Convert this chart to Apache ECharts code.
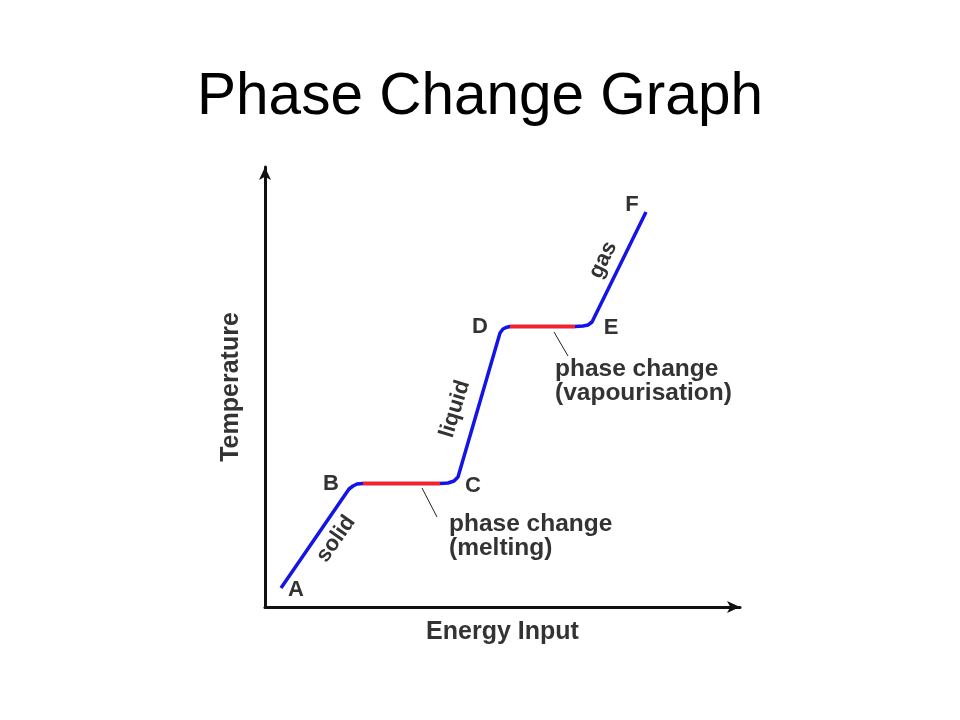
<!DOCTYPE html>
<html>
<head>
  <meta charset="utf-8" />
  <title>Phase Change Graph</title>
  <script src="https://cdn.jsdelivr.net/npm/echarts@6/dist/echarts.min.js"></script>
  <style>
    html, body { margin: 0; padding: 0; background: #fff; }
  </style>
</head>
<body>
<div id="main" style="width: 960px;height:720px;"></div>
<script type="text/javascript">
  // heating curve (energy, temperature), arbitrary units
  var curveEnergy = [16, 84, 88, 92, 98, 175, 183, 189, 193, 235, 238, 241, 245, 310, 318, 323, 327, 381];
  var curveTemp   = [19, 118, 121, 123, 123.5, 123.5, 124, 126, 130, 274, 278, 279.5, 280.5, 280.5, 281, 282, 285, 395];
  // plateaus (phase changes)
  var meltEnergy = [98, 175];
  var meltTemp   = [123.5, 123.5];
  var vapEnergy  = [245, 310];
  var vapTemp    = [280.5, 280.5];

  function pairs(xs, ys) {
    var out = [];
    for (var i = 0; i < xs.length; i++) out.push([xs[i], ys[i]]);
    return out;
  }

  var txt = '#333';
  var font = '"Liberation Sans", Arial, Helvetica, sans-serif';
  function deg(d) { return d * Math.PI / 180; }
  function label(text, x, y, rot, size) {
    return {
      type: 'text', x: x, y: y, rotation: rot ? deg(rot) : 0,
      style: { text: text, fill: txt, font: 'normal normal bold ' + (size || 22) + 'px ' + font,
               textAlign: 'center', textVerticalAlign: 'middle' }
    };
  }

  var chart = echarts.init(document.getElementById('main'));
  var option = {
    backgroundColor: '#fff',
    animation: false,
    title: {
      text: 'Phase Change Graph',
      left: 'center',
      top: 63,
      textStyle: { fontFamily: font, fontSize: 58.5, fontWeight: 'normal', color: '#000' }
    },
    grid: { left: 265, right: 220, top: 167, bottom: 113 },
    xAxis: {
      type: 'value', min: 0, max: 475,
      name: 'Energy Input', nameLocation: 'middle', nameGap: 13,
      nameTextStyle: { fontFamily: font, fontSize: 25, fontWeight: 'bold', color: txt },
      axisLine: { lineStyle: { color: '#111', width: 3 }, symbol: ['none', 'arrow'], symbolSize: [9, 13] },
      axisTick: { show: false }, axisLabel: { show: false }, splitLine: { show: false }
    },
    yAxis: {
      type: 'value', min: 0, max: 440,
      name: 'Temperature', nameLocation: 'middle', nameGap: 21, nameRotate: 90,
      nameTextStyle: { fontFamily: font, fontSize: 25, fontWeight: 'bold', color: txt },
      axisLine: { lineStyle: { color: '#111', width: 3 }, symbol: ['none', 'arrow'], symbolSize: [9, 13] },
      axisTick: { show: false }, axisLabel: { show: false }, splitLine: { show: false }
    },
    series: [
      {
        type: 'line', data: pairs(curveEnergy, curveTemp), showSymbol: false,
        lineStyle: { color: '#1414e6', width: 3.5 }
      },
      {
        type: 'line', data: pairs(meltEnergy, meltTemp), showSymbol: false,
        lineStyle: { color: '#ff1f1f', width: 3.5 }
      },
      {
        type: 'line', data: pairs(vapEnergy, vapTemp), showSymbol: false,
        lineStyle: { color: '#ff1f1f', width: 3.5 }
      }
    ],
    graphic: [
      label('A', 296, 590), label('B', 331, 484), label('C', 473, 486),
      label('D', 480, 327), label('E', 611, 328), label('F', 632, 205),
      label('solid', 336, 539, 55), label('liquid', 455, 409, 73), label('gas', 603, 260, 64),
      { type: 'line', shape: { x1: 422, y1: 488, x2: 437, y2: 517 }, style: { stroke: '#222', lineWidth: 1 } },
      { type: 'line', shape: { x1: 554, y1: 332, x2: 568, y2: 356 }, style: { stroke: '#222', lineWidth: 1 } },
      { type: 'text', x: 449, y: 512,
        style: { text: 'phase change\n(melting)', fill: txt, font: 'normal normal bold 24.5px ' + font,
                 lineHeight: 24, textAlign: 'left', textVerticalAlign: 'top' } },
      { type: 'text', x: 555, y: 357,
        style: { text: 'phase change\n(vapourisation)', fill: txt, font: 'normal normal bold 24.5px ' + font,
                 lineHeight: 24, textAlign: 'left', textVerticalAlign: 'top' } }
    ]
  };
  chart.setOption(option);
</script>
</body>
</html>
